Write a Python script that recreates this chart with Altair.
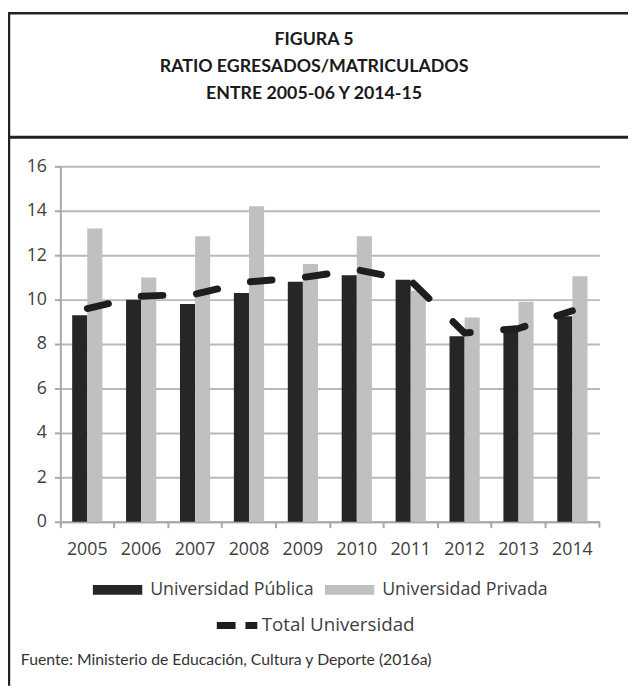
import altair as alt
import pandas as pd

years = ["2005", "2006", "2007", "2008", "2009", "2010", "2011", "2012", "2013", "2014"]
publica = [9.3, 10.0, 9.8, 10.3, 10.8, 11.1, 10.9, 8.35, 8.55, 9.25]
privada = [13.2, 11.0, 12.85, 14.2, 11.6, 12.85, 10.4, 9.2, 9.9, 11.05]
total = [9.6, 10.15, 10.25, 10.8, 11.0, 11.35, 10.85, 8.5, 8.7, 9.5]
series = ["Universidad Pública", "Universidad Privada"]
total_label = "Total Universidad"
y_ticks = [0, 2, 4, 6, 8, 10, 12, 14, 16]
title_lines = ["FIGURA 5", "RATIO EGRESADOS/MATRICULADOS", "ENTRE 2005-06 Y 2014-15"]
source = "Fuente: Ministerio de Educación, Cultura y Deporte (2016a)"

bar_df = pd.DataFrame(
    [{"year": y, "serie": series[0], "value": v} for y, v in zip(years, publica)]
    + [{"year": y, "serie": series[1], "value": v} for y, v in zip(years, privada)]
)
line_df = pd.DataFrame({"year": years, "total": total, "linea": [total_label] * len(years)})
one = pd.DataFrame({"k": [0]})

W, H = 546, 360
PAD = {"left": 53, "top": 156, "right": 29, "bottom": 166}
FONT = "Open Sans"
GRAY = "#a8a8a8"
LABEL = "#404040"

x_scale = alt.Scale(domain=years, paddingInner=0, paddingOuter=0)

bars = alt.Chart(bar_df).mark_bar().encode(
    x=alt.X("year:N", sort=years, scale=x_scale,
            axis=alt.Axis(title=None, labels=False, bandPosition=0, ticks=True,
                          tickSize=6, tickWidth=2, tickColor=GRAY, domainColor=GRAY,
                          domainWidth=2, grid=False, orient="bottom")),
    xOffset=alt.XOffset("serie:N", sort=series,
                        scale=alt.Scale(domain=series, paddingInner=0, paddingOuter=0.785)),
    y=alt.Y("value:Q", scale=alt.Scale(domain=[0, 16], nice=False),
            axis=alt.Axis(title=None, values=y_ticks, grid=True, gridColor="#b8b8b8",
                          gridWidth=2, domainColor=GRAY, domainWidth=2, tickColor=GRAY,
                          tickSize=6, tickWidth=2, labelPadding=8, labelFont=FONT,
                          labelFontSize=18, labelColor=LABEL)),
    color=alt.Color("serie:N", sort=series,
                    scale=alt.Scale(domain=series, range=["#262626", "#bfc0c2"]),
                    legend=alt.Legend(title=None, orient="none", legendX=33, legendY=404,
                                      direction="horizontal",
                                      symbolType="M-1,-0.2H1V0.2H-1Z", symbolSize=2500,
                                      symbolStrokeWidth=0, labelOffset=8, columnPadding=11,
                                      labelLimit=400,
                                      labelFont=FONT, labelFontSize=18, labelColor=LABEL)),
)

line = alt.Chart(line_df).mark_line(strokeWidth=7, strokeCap="round", strokeJoin="round",
                                    strokeDash=[22, 34]).encode(
    x=alt.X("year:N", sort=years, scale=x_scale,
            axis=alt.Axis(title=None, ticks=False, tickSize=0, domain=False, grid=False,
                          labelPadding=19, labelFont=FONT, labelFontSize=18,
                          labelColor=LABEL, labelAngle=0, orient="bottom")),
    y=alt.Y("total:Q"),
    stroke=alt.Stroke("linea:N", scale=alt.Scale(domain=[total_label], range=["#1e1e1e"]),
                      legend=alt.Legend(title=None, orient="none", legendX=155, legendY=441,
                                        symbolType="stroke", symbolSize=1681,
                                        symbolStrokeWidth=7, symbolDash=[19, 10],
                                        labelOffset=1, labelLimit=400, labelFont=FONT,
                                        labelFontSize=19, labelColor=LABEL)),
)

BORDER = "#222222"
frame_left = alt.Chart(one).mark_rule(color=BORDER, strokeWidth=2.5).encode(
    x=alt.value(-52), y=alt.value(-156), y2=alt.value(H + PAD["bottom"]))
frame_top = alt.Chart(one).mark_rule(color=BORDER, strokeWidth=2.5).encode(
    x=alt.value(-53), x2=alt.value(W + PAD["right"]), y=alt.value(-155))
divider = alt.Chart(one).mark_rule(color=BORDER, strokeWidth=3).encode(
    x=alt.value(-53), x2=alt.value(W + PAD["right"]), y=alt.value(-29.5))
last_tick = alt.Chart(one).mark_rule(color=GRAY, strokeWidth=2).encode(
    x=alt.value(W), y=alt.value(H), y2=alt.value(H + 6))

title_y = [-128, -101, -73]
titles = [
    alt.Chart(one).mark_text(font="Lato", fontSize=18, fontWeight="bold", color="#1a1a1a",
                             align="center", baseline="middle").encode(
        x=alt.value(257), y=alt.value(ty), text=alt.value(t))
    for t, ty in zip(title_lines, title_y)
]
footer = alt.Chart(one).mark_text(font="Lato", fontSize=16, color="#333333",
                                  align="left", baseline="middle").encode(
    x=alt.value(-40), y=alt.value(500), text=alt.value(source))

chart = alt.layer(bars, line, last_tick, frame_left, frame_top, divider, footer, *titles).resolve_axis(
    x="independent"
).properties(
    width=W, height=H, padding=PAD, autosize="none", background="white"
).configure_view(strokeWidth=0)

chart.save("out.html", embed_options={"renderer": "svg", "actions": False})
